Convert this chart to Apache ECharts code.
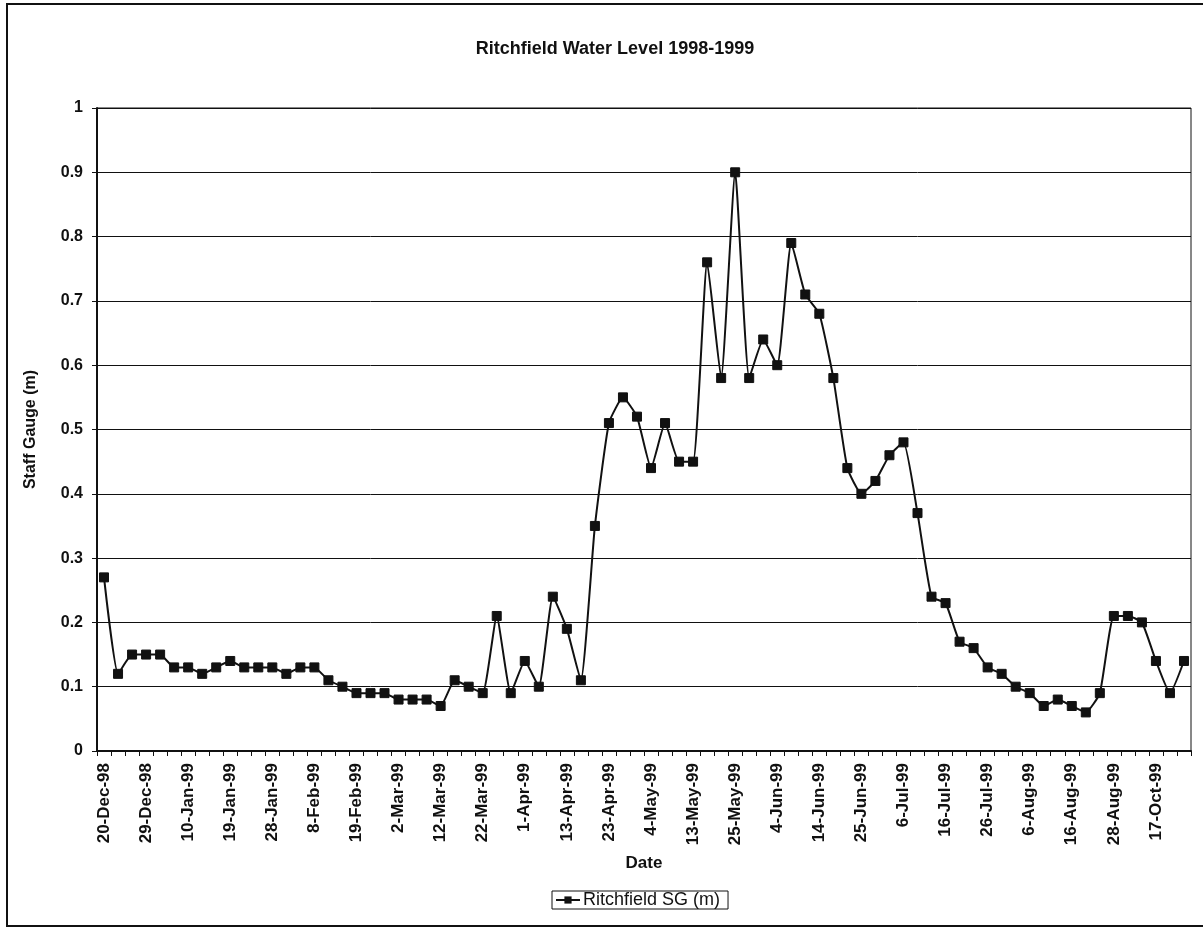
<!DOCTYPE html>
<html>
<head>
<meta charset="utf-8">
<script src="https://cdn.jsdelivr.net/npm/echarts@6/dist/echarts.min.js"></script>
<style>
html,body{margin:0;padding:0;background:#fff;}
#chart{width:1203px;height:929px;}
</style>
</head>
<body>
<div id="chart"></div>
<script>
const titleText = 'Ritchfield Water Level 1998-1999';
const seriesName = 'Ritchfield SG (m)';
const xAxisName = 'Date';
const yAxisName = 'Staff Gauge (m)';

const dates = [
  '20-Dec-98','23-Dec-98','26-Dec-98','29-Dec-98','2-Jan-99','6-Jan-99','10-Jan-99','13-Jan-99','16-Jan-99',
  '19-Jan-99','22-Jan-99','25-Jan-99','28-Jan-99','1-Feb-99','4-Feb-99','8-Feb-99','11-Feb-99','15-Feb-99',
  '19-Feb-99','22-Feb-99','26-Feb-99','2-Mar-99','5-Mar-99','9-Mar-99','12-Mar-99','15-Mar-99','19-Mar-99',
  '22-Mar-99','25-Mar-99','29-Mar-99','1-Apr-99','5-Apr-99','9-Apr-99','13-Apr-99','16-Apr-99','20-Apr-99',
  '23-Apr-99','27-Apr-99','30-Apr-99','4-May-99','7-May-99','10-May-99','13-May-99','17-May-99','21-May-99',
  '25-May-99','28-May-99','1-Jun-99','4-Jun-99','7-Jun-99','10-Jun-99','14-Jun-99','18-Jun-99','21-Jun-99',
  '25-Jun-99','28-Jun-99','2-Jul-99','6-Jul-99','9-Jul-99','13-Jul-99','16-Jul-99','20-Jul-99','23-Jul-99',
  '26-Jul-99','30-Jul-99','3-Aug-99','6-Aug-99','9-Aug-99','13-Aug-99','16-Aug-99','20-Aug-99','24-Aug-99',
  '28-Aug-99','15-Sep-99','3-Oct-99','17-Oct-99','31-Oct-99','14-Nov-99'
];

const staffGauge = [
  0.27,0.12,0.15,0.15,0.15,0.13,0.13,0.12,0.13,
  0.14,0.13,0.13,0.13,0.12,0.13,0.13,0.11,0.10,
  0.09,0.09,0.09,0.08,0.08,0.08,0.07,0.11,0.10,
  0.09,0.21,0.09,0.14,0.10,0.24,0.19,0.11,0.35,
  0.51,0.55,0.52,0.44,0.51,0.45,0.45,0.76,0.58,
  0.90,0.58,0.64,0.60,0.79,0.71,0.68,0.58,0.44,
  0.40,0.42,0.46,0.48,0.37,0.24,0.23,0.17,0.16,
  0.13,0.12,0.10,0.09,0.07,0.08,0.07,0.06,0.09,
  0.21,0.21,0.20,0.14,0.09,0.14
];

const yTicks = ['0','0.1','0.2','0.3','0.4','0.5','0.6','0.7','0.8','0.9','1'];

const FONT = '"Liberation Sans", Arial, Helvetica, sans-serif';

const chart = echarts.init(document.getElementById('chart'), null, {renderer: 'canvas'});
chart.setOption({
  backgroundColor: '#ffffff',
  animation: false,
  title: {
    text: titleText,
    left: 610,
    top: 35,
    textAlign: 'center',
    textStyle: {fontFamily: FONT, fontSize: 18, fontWeight: 'bold', color: '#111'}
  },
  graphic: [{
    type: 'rect',
    shape: {x: 7, y: 4, width: 1200, height: 922},
    style: {fill: 'none', stroke: '#111', lineWidth: 2},
    silent: true,
    z: -1
  }],
  legend: {
    data: [seriesName],
    left: 552,
    top: 891,
    padding: [0, 8, 0, 3],
    itemGap: 2,
    itemWidth: 24,
    itemHeight: 9,
    borderColor: '#111',
    borderWidth: 1,
    textStyle: {fontFamily: FONT, fontSize: 18, color: '#111', padding: [0, 0, 0, -2]}
  },
  grid: {
    left: 97, right: 12, top: 108, bottom: 178,
    show: true,
    borderColor: '#111',
    borderWidth: 1,
    backgroundColor: 'transparent'
  },
  xAxis: {
    type: 'category',
    data: dates,
    boundaryGap: true,
    name: xAxisName,
    nameLocation: 'middle',
    nameGap: 104,
    nameTextStyle: {fontFamily: FONT, fontSize: 17, fontWeight: 'bold', color: '#111'},
    axisLine: {show: true, lineStyle: {color: '#111', width: 2}},
    axisTick: {show: true, interval: 0, length: 5, inside: false, lineStyle: {color: '#111', width: 1}},
    axisLabel: {
      interval: 2,
      rotate: 90,
      margin: 12,
      fontFamily: FONT, fontSize: 17, fontWeight: 'bold', color: '#111'
    },
    splitLine: {show: false}
  },
  yAxis: {
    type: 'value',
    min: 0, max: 1, interval: 0.1,
    name: yAxisName,
    nameLocation: 'middle',
    nameGap: 58,
    nameTextStyle: {fontFamily: FONT, fontSize: 16, fontWeight: 'bold', color: '#111'},
    axisLine: {show: true, lineStyle: {color: '#111', width: 2}},
    axisTick: {show: true, length: 5, inside: false, lineStyle: {color: '#111', width: 1}},
    axisLabel: {
      margin: 14,
      fontFamily: FONT, fontSize: 16, fontWeight: 'bold', color: '#111',
      formatter: function (v) { return yTicks[Math.round(v * 10)]; }
    },
    splitLine: {show: true, lineStyle: {color: '#111', width: 1}}
  },
  series: [{
    name: seriesName,
    type: 'line',
    data: staffGauge,
    smooth: 0.15,
    symbol: 'rect',
    symbolSize: 9,
    itemStyle: {color: '#111', borderColor: '#111'},
    lineStyle: {color: '#111', width: 2}
  }]
});
</script>
</body>
</html>
